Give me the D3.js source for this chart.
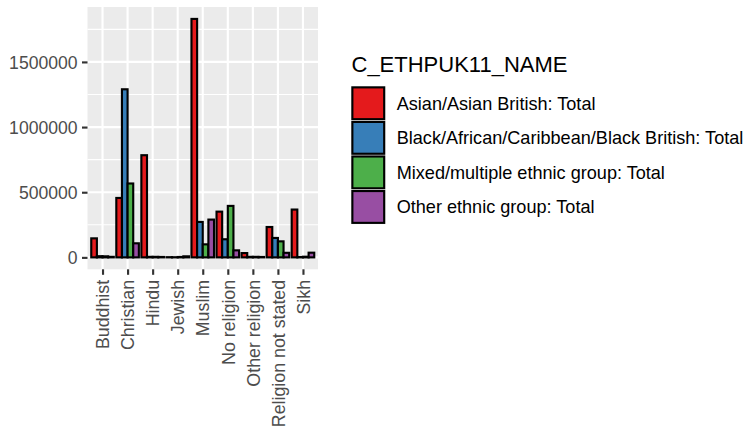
<!DOCTYPE html>
<html>
<head>
<meta charset="utf-8">
<script src="https://cdn.jsdelivr.net/npm/d3@7"></script>
<style>
  html, body { margin: 0; padding: 0; background: #ffffff; }
  svg { display: block; font-family: "Liberation Sans", Arial, sans-serif; }
</style>
</head>
<body>
<svg id="chart" width="743" height="431"></svg>
<script>
const categories = ["Buddhist", "Christian", "Hindu", "Jewish", "Muslim", "No religion", "Other religion", "Religion not stated", "Sikh"];
const seriesNames = ["Asian/Asian British: Total", "Black/African/Caribbean/Black British: Total", "Mixed/multiple ethnic group: Total", "Other ethnic group: Total"];
const asianValues = [146000, 456000, 784000, 1500, 1830000, 351000, 33000, 233000, 367000];
const blackValues = [9000, 1290000, 4000, 1000, 272000, 139000, 4000, 149000, 2500];
const mixedValues = [8000, 567000, 4000, 3000, 100000, 395000, 4000, 123000, 5000];
const otherValues = [4000, 108000, 3000, 8000, 290000, 54000, 3000, 35000, 36000];
const seriesColors = ["#E41A1C", "#377EB8", "#4DAF4A", "#984EA3"];
const yTicks = [0, 500000, 1000000, 1500000];
const yMinorTicks = [250000, 750000, 1250000, 1750000];
const legendTitle = "C_ETHPUK11_NAME";

const seriesValues = [asianValues, blackValues, mixedValues, otherValues];
const data = [];
categories.forEach((c, ci) => {
  seriesValues.forEach((vals, si) => data.push({ cat: c, s: si, v: vals[ci] }));
});

const svg = d3.select("#chart");
const panel = { left: 87.5, right: 318, top: 7, bottom: 269.3 };
const lw = 2.13;

const x = d3.scalePoint().domain(categories).range([panel.left, panel.right]).padding(0.6);
const step = x.step();
const maxV = d3.max(data, d => d.v);
const y = d3.scaleLinear().domain([-0.05 * maxV, 1.05 * maxV]).range([panel.bottom, panel.top]);

// panel background
svg.append("rect")
  .attr("x", panel.left).attr("y", panel.top)
  .attr("width", panel.right - panel.left).attr("height", panel.bottom - panel.top)
  .attr("fill", "#EBEBEB");

// minor grid
svg.append("g").selectAll("line").data(yMinorTicks).join("line")
  .attr("x1", panel.left).attr("x2", panel.right)
  .attr("y1", d => y(d)).attr("y2", d => y(d))
  .attr("stroke", "#ffffff").attr("stroke-width", lw / 2);
// major grid
svg.append("g").selectAll("line").data(yTicks).join("line")
  .attr("x1", panel.left).attr("x2", panel.right)
  .attr("y1", d => y(d)).attr("y2", d => y(d))
  .attr("stroke", "#ffffff").attr("stroke-width", lw);
svg.append("g").selectAll("line").data(categories).join("line")
  .attr("x1", d => x(d)).attr("x2", d => x(d))
  .attr("y1", panel.top).attr("y2", panel.bottom)
  .attr("stroke", "#ffffff").attr("stroke-width", lw);

// bars
const groupW = 0.9 * step;
const barW = groupW / 4;
svg.append("g").selectAll("rect").data(data).join("rect")
  .attr("x", d => x(d.cat) - groupW / 2 + d.s * barW)
  .attr("width", barW)
  .attr("y", d => y(d.v))
  .attr("height", d => y(0) - y(d.v))
  .attr("fill", d => seriesColors[d.s])
  .attr("stroke", "#000000")
  .attr("stroke-width", lw);

// y axis
const yAxis = d3.axisLeft(y).tickValues(yTicks).tickSize(5.5).tickPadding(4.4).tickFormat(d3.format("d"));
const gy = svg.append("g").attr("transform", `translate(${panel.left},0)`).call(yAxis);
gy.select(".domain").remove();
gy.selectAll(".tick line").attr("stroke", "#333333").attr("stroke-width", lw);
gy.selectAll(".tick text").attr("fill", "#4D4D4D").attr("font-size", "17.6px")
  .attr("font-family", "Liberation Sans, Arial, sans-serif").attr("dy", "0.35em");

// x axis
const xAxis = d3.axisBottom(x).tickSize(5.5).tickPadding(4.4);
const gx = svg.append("g").attr("transform", `translate(0,${panel.bottom})`).call(xAxis);
gx.select(".domain").remove();
gx.selectAll(".tick line").attr("stroke", "#333333").attr("stroke-width", lw);
gx.selectAll(".tick text")
  .attr("fill", "#4D4D4D").attr("font-size", "17.8px")
  .attr("font-family", "Liberation Sans, Arial, sans-serif")
  .attr("transform", "rotate(-90)")
  .attr("text-anchor", "end")
  .attr("x", -10.6).attr("y", 0).attr("dy", "0.35em");

// legend
const lg = svg.append("g");
lg.append("text").attr("x", 351.5).attr("y", 71.5)
  .attr("font-size", "22px").attr("fill", "#000000").text(legendTitle);
const keyH = 34.56, keyX = 351, keyTop = 86;
seriesNames.forEach((name, i) => {
  const ky = keyTop + i * keyH;
  lg.append("rect").attr("x", keyX).attr("y", ky).attr("width", keyH).attr("height", keyH)
    .attr("fill", "#F2F2F2");
  lg.append("rect").attr("x", keyX + lw / 2 + 0.3).attr("y", ky + lw / 2 + 0.3)
    .attr("width", keyH - lw - 0.6).attr("height", keyH - lw - 0.6)
    .attr("fill", seriesColors[i]).attr("stroke", "#000000").attr("stroke-width", lw);
  lg.append("text").attr("x", 396.7).attr("y", ky + keyH / 2).attr("dy", "0.35em")
    .attr("font-size", "18.1px").attr("fill", "#000000").text(name);
});
</script>
</body>
</html>
